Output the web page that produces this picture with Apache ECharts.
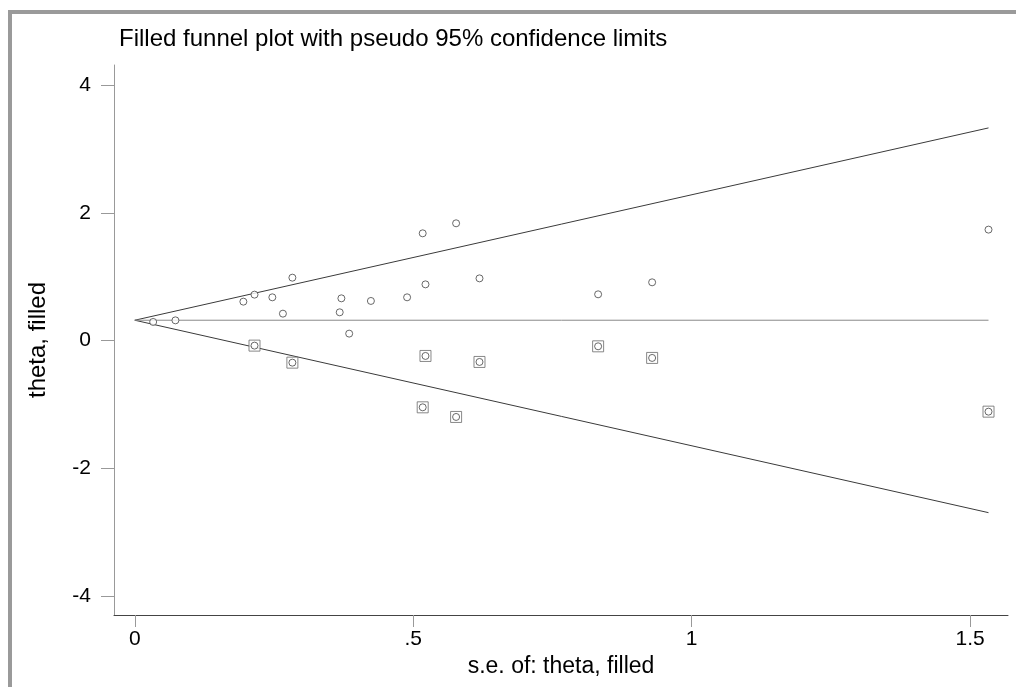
<!DOCTYPE html>
<html>
<head>
<meta charset="utf-8">
<script src="https://cdn.jsdelivr.net/npm/echarts@6/dist/echarts.min.js"></script>
<style>
  html, body { margin: 0; padding: 0; background: #fff; }
  #wrap { position: relative; width: 1016px; height: 687px; overflow: hidden; background: #fff; }
  #frame { position: absolute; left: 8px; top: 10px; width: 1100px; height: 800px; border-left: 4px solid #9a9a9a; border-top: 4px solid #9a9a9a; box-sizing: border-box; }
  #chart { position: absolute; left: 0; top: 0; width: 1016px; height: 687px; }
</style>
</head>
<body>
<div id="wrap">
  <div id="frame"></div>
  <div id="chart"></div>
</div>
<script>
// Original studies: standard error and effect estimate
const studySE    = [0.033, 0.073, 0.195, 0.215, 0.247, 0.266, 0.283, 0.368, 0.371, 0.385, 0.424, 0.489, 0.517, 0.522, 0.577, 0.619, 0.832, 0.929, 1.533];
const studyTheta = [0.293, 0.318, 0.611, 0.721, 0.679, 0.423, 0.987, 0.444, 0.663, 0.110, 0.622, 0.679, 1.682, 0.882, 1.839, 0.976, 0.726, 0.914, 1.740];

// Filled (imputed) studies
const filledSE    = [0.215, 0.283, 0.522, 0.619, 0.517, 0.577, 0.832, 0.929, 1.533];
const filledTheta = [-0.078, -0.345, -0.240, -0.334, -1.045, -1.196, -0.089, -0.271, -1.113];

// Pseudo 95% confidence limits
const funnelSE     = [0, 1.533];
const funnelCenter = [0.32, 0.32];
const funnelUpper  = [0.32, 3.334];
const funnelLower  = [0.32, -2.696];

// Axis ticks
const xTicks = [0, 0.5, 1, 1.5];
const yTicks = [-4, -2, 0, 2, 4];

const titleText = 'Filled funnel plot with pseudo 95% confidence limits';
const xName = 's.e. of: theta, filled';
const yName = 'theta, filled';

const zip = (a, b) => a.map((v, i) => [v, b[i]]);
const FONT = '"Liberation Sans", Arial, sans-serif';

const chart = echarts.init(document.getElementById('chart'), null, { renderer: 'canvas' });
chart.setOption({
  animation: false,
  backgroundColor: 'transparent',
  title: {
    text: titleText,
    left: 114, top: 22,
    textStyle: { fontFamily: FONT, fontSize: 24, fontWeight: 'normal', color: '#000' }
  },
  grid: { left: 114, right: 8, top: 65, bottom: 72, containLabel: false },
  xAxis: {
    type: 'value', min: -0.0373, max: 1.568,
    name: xName, nameLocation: 'middle', nameGap: 36,
    nameTextStyle: { fontFamily: FONT, fontSize: 23, color: '#000' },
    axisLine: { show: true, onZero: false, lineStyle: { color: '#444', width: 1 } },
    axisTick: { show: true, inside: false, length: 12, customValues: xTicks, lineStyle: { color: '#999', width: 1 } },
    axisLabel: { margin: 14, customValues: xTicks, fontFamily: FONT, fontSize: 21, color: '#000',
      formatter: v => String(v).replace(/^0\./, '.').replace(/^-0\./, '-.') },
    splitLine: { show: false }
  },
  yAxis: {
    type: 'value', min: -4.30, max: 4.32,
    name: yName, nameLocation: 'middle', nameGap: 64, nameRotate: 90,
    nameTextStyle: { fontFamily: FONT, fontSize: 24, color: '#000' },
    axisLine: { show: true, onZero: false, lineStyle: { color: '#999', width: 1 } },
    axisTick: { show: true, inside: false, length: 13, customValues: yTicks, lineStyle: { color: '#999', width: 1 } },
    axisLabel: { margin: 23, customValues: yTicks, fontFamily: FONT, fontSize: 21, color: '#000' },
    splitLine: { show: false }
  },
  series: [
    { type: 'line', data: zip(funnelSE, funnelUpper), symbol: 'none', lineStyle: { color: '#3a3a3a', width: 1 }, z: 2 },
    { type: 'line', data: zip(funnelSE, funnelLower), symbol: 'none', lineStyle: { color: '#3a3a3a', width: 1 }, z: 2 },
    { type: 'line', data: zip(funnelSE, funnelCenter), symbol: 'none', lineStyle: { color: '#8a8a8a', width: 1 }, z: 2 },
    { type: 'scatter', data: zip(filledSE, filledTheta), symbol: 'rect', symbolSize: 11,
      itemStyle: { color: '#fff', borderColor: '#6a6a6a', borderWidth: 1 }, z: 3 },
    { type: 'scatter', data: zip(filledSE, filledTheta), symbol: 'circle', symbolSize: 7,
      itemStyle: { color: '#fff', borderColor: '#444', borderWidth: 1 }, z: 4 },
    { type: 'scatter', data: zip(studySE, studyTheta), symbol: 'circle', symbolSize: 7,
      itemStyle: { color: '#fff', borderColor: '#444', borderWidth: 1 }, z: 4 }
  ]
});
</script>
</body>
</html>
